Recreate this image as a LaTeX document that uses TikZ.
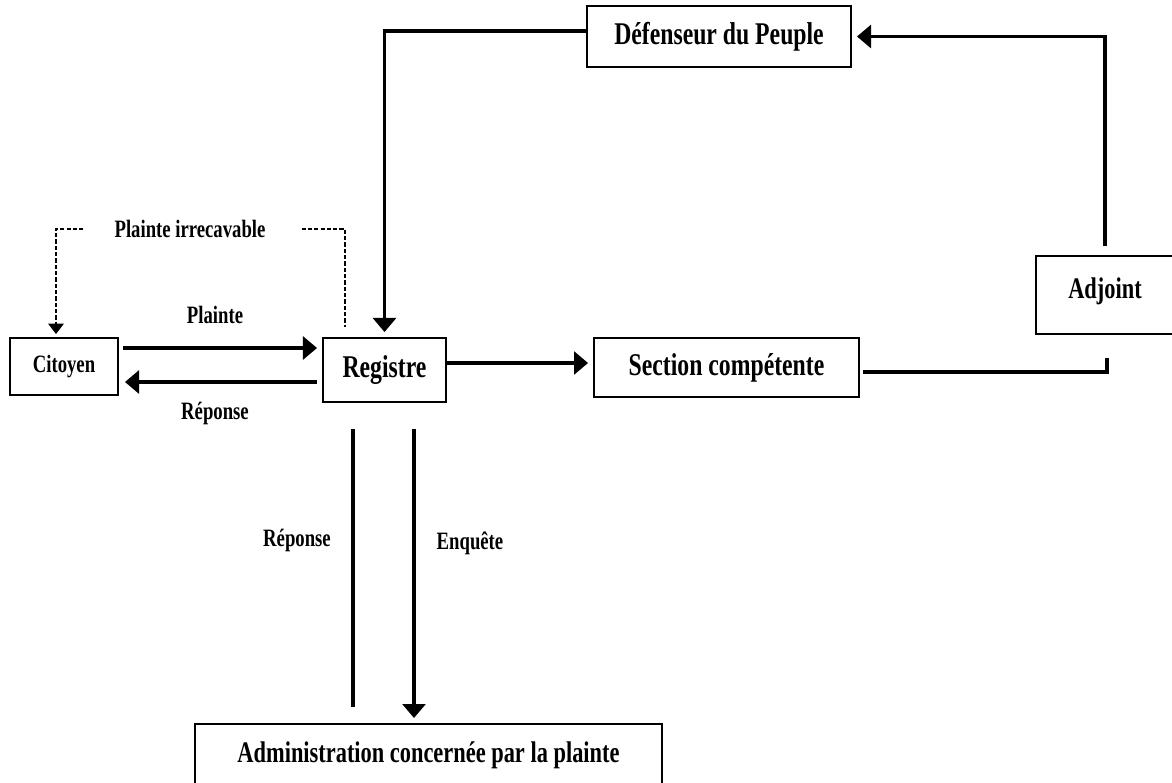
\documentclass[tikz,border=0pt]{standalone}
\usepackage{fontspec}
\setmainfont{Liberation Serif}[FakeStretch=0.75]
\usetikzlibrary{arrows.meta}
\tikzset{
	box/.style={draw,line width=1.1pt,font=\bigf,inner sep=0pt},
	lbl/.style={font=\smallf,inner sep=1pt},
	conn/.style={line width=1.8pt},
	arr/.style={conn,-{Triangle[length=8pt,width=13pt]},shorten >=0.1cm},
	dashln/.style={line width=0.6pt,dash pattern=on 2.4pt off 1.2pt}
}
\def\bigf{\bfseries\fontsize{18}{21}\selectfont}
\def\smallf{\bfseries\fontsize{14.2}{17}\selectfont}
\def\midf{\fontsize{17}{20}\selectfont}

\begin{document}
\begin{tikzpicture}[x=0.02cm,y=-0.02cm]
	\fill[white] (0,0) rectangle (1172,782);
	\useasboundingbox (0,0) rectangle (1172,782);
	% boxes
	\node[box,minimum width=2.16cm,minimum height=1.14cm] (cit) at (64,366.5) {\smallf Citoyen};
	\node[box,minimum width=2.46cm,minimum height=1.28cm] (reg) at (384.5,370) {Registre};
	\node[box,minimum width=5.3cm,minimum height=1.18cm] (sec) at (726.5,367.5) {Section compétente};
	\node[box,minimum width=5.28cm,minimum height=1.22cm] (def) at (719,36.5) {Défenseur du Peuple};
	\node[box,minimum width=2.76cm,minimum height=1.56cm,text depth=0.28cm] (adj) at (1105,295) {\midf Adjoint};
	\node[box,minimum width=9.34cm,minimum height=1.24cm] (adm) at (428.5,755) {\midf Administration concernée par la plainte};
	% labels
	\node[lbl] (irr) at (190,229) {Plainte irrecavable};
	\node[lbl] (pl) at (215,315) {Plainte};
	\node[lbl] (rep) at (215,413) {Réponse};
	\node[lbl] (rep2) at (297,540) {Réponse};
	\node[lbl] (enq) at (470,543) {Enquête};
	% connectors
	\draw[arr] ([xshift=0.08cm,yshift=0.37cm]cit.east) -- ([yshift=0.37cm]cit.east -| reg.west);
	\draw[arr] ([xshift=-0.1cm,yshift=-0.31cm]cit.east -| reg.west) -- ([xshift=0.02cm,yshift=-0.31cm]cit.east);
	\draw[dashln,-{Triangle[length=6pt,width=9pt]}] ([xshift=-0.58cm]irr.west) -| ([xshift=-0.16cm,yshift=0.06cm]cit.north);
	\draw[dashln] ([xshift=0.68cm]irr.east) -| ([xshift=-0.79cm,yshift=0.2cm]reg.north);
	\draw[arr] ([yshift=0.14cm]reg.east) -- ([yshift=0.14cm]reg.east -| sec.west);
	\draw[conn] ([xshift=0.06cm,yshift=-0.09cm]sec.east) -| ([xshift=0.04cm,yshift=-0.46cm]adj.south);
	\draw[arr] ([yshift=0.18cm]adj.north) |- (def.east);
	\draw[arr] ([yshift=0.11cm]def.west) -| (reg.north);
	\draw[arr] ([xshift=0.59cm,yshift=-0.52cm]reg.south) -- ([xshift=0.59cm]reg.south |- adm.north);
	\draw[conn] ([xshift=-0.63cm,yshift=-0.52cm]reg.south) -- ([xshift=-0.63cm,yshift=0.32cm]reg.south |- adm.north);
\end{tikzpicture}
\end{document}
